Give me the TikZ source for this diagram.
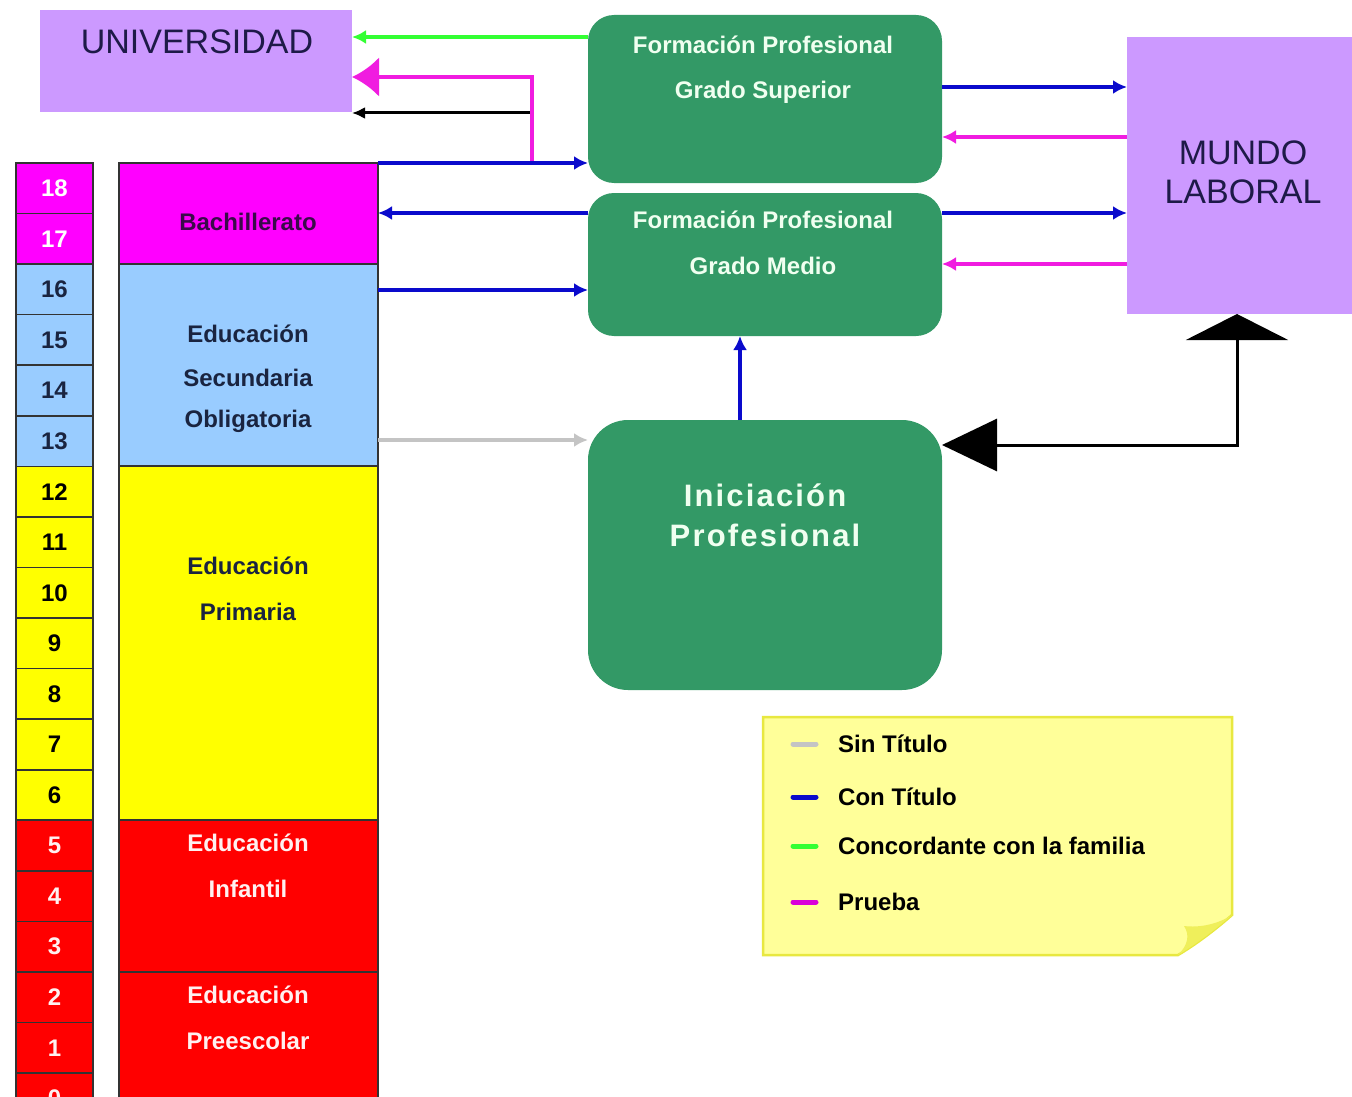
\documentclass[tikz,border=0pt]{standalone}
\usepackage{fontspec}
\setmainfont{Liberation Sans}
\newfontfamily\spacedfont[LetterSpace=7]{Liberation Sans}
\usetikzlibrary{arrows.meta}
\definecolor{cuni}{HTML}{CC99FF}
\definecolor{cgreen}{HTML}{339966}
\definecolor{cmag}{HTML}{FF00FF}
\definecolor{cblue}{HTML}{99CCFF}
\definecolor{cyel}{HTML}{FFFF00}
\definecolor{cred}{HTML}{FF0000}
\definecolor{cleg}{HTML}{FFFF99}
\definecolor{clegb}{HTML}{E8E840}
\definecolor{anavy}{HTML}{0A0ACC}
\definecolor{agray}{HTML}{C4C4C4}
\definecolor{agreen}{HTML}{33FF33}
\definecolor{amag}{HTML}{F01CE0}
\definecolor{tnavy}{HTML}{1E1A48}
\definecolor{tdark}{HTML}{1A2440}
\definecolor{tpurp}{HTML}{3A0A4A}
\definecolor{tgreen}{HTML}{F0FFF0}
\definecolor{tpink}{HTML}{FFF0F0}
\tikzset{
  box/.style={inner sep=0pt, outer sep=0pt, anchor=north west},
  gbox/.style={box, fill=cgreen, rounded corners=26pt},
  cell/.style={box, draw=black!80, line width=1.6pt, minimum width=77pt, minimum height=50.56pt,
     font=\fontsize{24}{28}\selectfont\bfseries},
  stage/.style={box, draw=black!80, line width=1.6pt, minimum width=259pt},
  lab/.style={inner sep=0pt, font=\fontsize{24}{28}\selectfont\bfseries},
  biglab/.style={inner sep=0pt, font=\fontsize{34}{40}\selectfont, text=tnavy},
  arr/.style={line width=4.5pt, -{Latex[length=14pt,width=14pt]}},
  legline/.style={line width=5pt, line cap=round}
}
\begin{document}
\begin{tikzpicture}[x=1pt,y=-1pt]
\useasboundingbox (0,0) rectangle (1352,1097);
\clip (0,0) rectangle (1352,1097);
\fill[white] (0,0) rectangle (1352,1097);

% main boxes
\node[box, fill=cuni, minimum width=312pt, minimum height=102pt] (uni) at (40,10) {};
\node[biglab] (unit) at (197,42) {UNIVERSIDAD};
\node[box, fill=cuni, minimum width=226pt, minimum height=277pt] (mundo) at (1127,37) {};
\node[biglab, align=center] (mundot) at (1243,172) {MUNDO\\[-1pt]LABORAL};

\node[gbox, minimum width=354pt, minimum height=168pt] (fps) at (588,15) {};
\node[lab, text=tgreen] (fps1) at (763,45) {Formación Profesional};
\node[lab, text=tgreen] (fps2) at (763,92) {Grado Superior};
\node[gbox, minimum width=354pt, minimum height=143pt] (fpm) at (588,193) {};
\node[lab, text=tgreen] (fpm1) at (763,220) {Formación Profesional};
\node[lab, text=tgreen] (fpm2) at (763,266) {Grado Medio};
\node[gbox, minimum width=354pt, minimum height=270pt, rounded corners=40pt] (ini) at (588,420) {};
\node[inner sep=0pt, font=\spacedfont\fontsize{31}{36}\selectfont\bfseries, text=tgreen] (ini1) at (765,495) {Iniciación};
\node[inner sep=0pt, font=\spacedfont\fontsize{31}{36}\selectfont\bfseries, text=tgreen] (ini2) at (765,535) {Profesional};

% age column
\foreach \a/\f/\t [count=\i from 0] in {18/cmag/white,17/cmag/white,16/cblue/tdark,15/cblue/tdark,14/cblue/tdark,13/cblue/tdark,12/cyel/black,11/cyel/black,10/cyel/black,9/cyel/black,8/cyel/black,7/cyel/black,6/cyel/black,5/cred/tpink,4/cred/tpink,3/cred/tpink,2/cred/tpink,1/cred/tpink,0/cred/tpink}
  \node[cell, fill=\f, text=\t] (age\a) at (16,163+\i*50.56) {\a};

% stage column
\node[stage, fill=cmag, minimum height=101pt] (bach) at (119,163) {};
\node[lab, text=tpurp] (bacht) at (248,222) {Bachillerato};
\node[stage, fill=cblue, minimum height=202pt] (eso) at (119,264) {};
\node[lab, text=tdark] (eso1) at (248,334) {Educación};
\node[lab, text=tdark] (eso2) at (248,378) {Secundaria};
\node[lab, text=tdark] (eso3) at (248,421) {Obligatoria};
\node[stage, fill=cyel, minimum height=354pt] (prim) at (119,466) {};
\node[lab, text=tdark] (prim1) at (248,566) {Educación};
\node[lab, text=tdark] (prim2) at (248,612) {Primaria};
\node[stage, fill=cred, minimum height=152pt] (inf) at (119,820) {};
\node[lab, text=tpink] (inf1) at (248,843) {Educación};
\node[lab, text=tpink] (inf2) at (248,889) {Infantil};
\node[stage, fill=cred, minimum height=160pt] (pre) at (119,972) {};
\node[lab, text=tpink] (pre1) at (248,995) {Educación};
\node[lab, text=tpink] (pre2) at (248,1041) {Preescolar};

% arrows to university
\coordinate (mstart) at (532,163);
\coordinate (kstart) at (532,113);
\draw[arr, agreen] (fps.west |- 0,37) -- (uni.east |- 0,37);
\draw[black, line width=3pt, -{Latex[length=13pt,width=12pt]}] (kstart) -- (uni.east |- 0,113);
\draw[amag, line width=4.5pt, -{Latex[length=27pt,width=40pt]}] (mstart) |- (uni.east |- 0,77);
\draw[arr, anavy] (bach.north east) -- (fps.west |- bach.north east);

% FP medio / ESO arrows
\draw[arr, anavy] (fpm.west |- 0,213) -- (bach.east |- 0,213);
\draw[arr, anavy] (eso.east |- 0,290) -- (fpm.west |- 0,290);
\draw[arr, agray] (eso.east |- 0,440) -- (ini.west |- 0,440);
\draw[arr, anavy] (ini.north -| 740,0) -- (fpm.south -| 740,0);

% mundo laboral arrows
\draw[arr, anavy] (fps.east |- 0,87) -- (mundo.west |- 0,87);
\draw[arr, amag] (mundo.west |- 0,137) -- (fps.east |- 0,137);
\draw[arr, anavy] (fpm.east |- 0,213) -- (mundo.west |- 0,213);
\draw[arr, amag] (mundo.west |- 0,264) -- (fpm.east |- 0,264);
\draw[black, line width=3pt, {Triangle[length=55pt,width=52pt]}-{Triangle[length=26pt,width=102pt]}]
  (ini.east |- 0,445) -| (mundo.south -| 1237,0);

% legend
\path[fill=cleg, draw=clegb, line width=2.5pt]
  (763,717) -- (1232,717) -- (1232,915) .. controls (1215,930) and (1195,945) .. (1178,955) -- (763,955) -- cycle;
\path[fill=clegb!70!cleg] (1178,955) .. controls (1188,945) and (1190,935) .. (1184,926) .. controls (1200,928) and (1218,924) .. (1232,915) .. controls (1215,930) and (1195,945) .. (1178,955) -- cycle;
\node[box] (legbox) at (763,717) {};
\draw[legline, agray] (793,744) -- (816,744);
\node[lab, anchor=west] (leg1) at (838,744) {Sin Título};
\draw[legline, anavy] (793,797) -- (816,797);
\node[lab, anchor=west] (leg2) at (838,797) {Con Título};
\draw[legline, agreen] (793,846) -- (816,846);
\node[lab, anchor=west] (leg3) at (838,846) {Concordante con la familia};
\draw[legline, cmag!85!black] (793,902) -- (816,902);
\node[lab, anchor=west] (leg4) at (838,902) {Prueba};
\end{tikzpicture}
\end{document}
